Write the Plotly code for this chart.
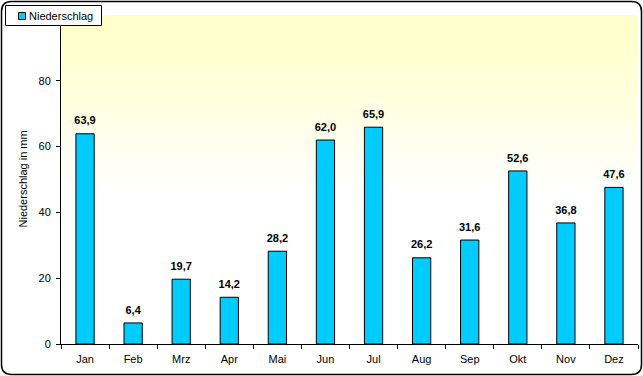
import plotly.graph_objects as go

months = ["Jan", "Feb", "Mrz", "Apr", "Mai", "Jun", "Jul", "Aug", "Sep", "Okt", "Nov", "Dez"]
niederschlag = [63.9, 6.4, 19.7, 14.2, 28.2, 62.0, 65.9, 26.2, 31.6, 52.6, 36.8, 47.6]
y_ticks = [0, 20, 40, 60, 80]
series_name = "Niederschlag"
y_title = "Niederschlag in mm"

W, H = 643, 376
L, R, T, B = 61, 5, 15, 32
pw, ph = W - L - R, H - T - B

def px(xp):
    return (xp - L) / pw
def py(yp):
    return (H - B - yp) / ph

fig = go.Figure()
fig.add_trace(go.Bar(
    x=months, y=niederschlag, name=series_name,
    marker=dict(color="#00CCFF", line=dict(color="black", width=1)),
    showlegend=False, hoverinfo="x+y",
))
# data labels above the bars
fig.add_trace(go.Scatter(
    x=months, y=niederschlag, mode="markers+text",
    marker=dict(size=9, color="rgba(0,0,0,0)"),
    texttemplate="%{y:.1f}", textposition="top center",
    textfont=dict(family="Liberation Sans, Arial", size=11, color="black", weight="bold"),
    cliponaxis=False, showlegend=False, hoverinfo="skip",
))

shapes = []
# background gradient (decoration)
n = 40
top_full, bottom_white = 0.93, 0.45
for i in range(n):
    y0 = bottom_white + (top_full - bottom_white) * i / n
    y1 = bottom_white + (top_full - bottom_white) * (i + 1) / n
    f = (i + 0.5) / n
    b = round(255 - (255 - 204) * f)
    shapes.append(dict(type="rect", xref="x domain", yref="y domain", x0=0, x1=1, y0=y0, y1=y1,
                       fillcolor=f"rgb(255,255,{b})", line=dict(width=0), layer="below"))
shapes.append(dict(type="rect", xref="x domain", yref="y domain", x0=0, x1=1, y0=top_full, y1=1,
                   fillcolor="rgb(255,255,204)", line=dict(width=0), layer="below"))

# rounded outer border
x0, x1, y0, y1, r = 1.5, 641.5, 1.5, 374.5, 10
path = (f"M {px(x0+r)},{py(y0)} L {px(x1-r)},{py(y0)} Q {px(x1)},{py(y0)} {px(x1)},{py(y0+r)} "
        f"L {px(x1)},{py(y1-r)} Q {px(x1)},{py(y1)} {px(x1-r)},{py(y1)} "
        f"L {px(x0+r)},{py(y1)} Q {px(x0)},{py(y1)} {px(x0)},{py(y1-r)} "
        f"L {px(x0)},{py(y0+r)} Q {px(x0)},{py(y0)} {px(x0+r)},{py(y0)} Z")
shapes.append(dict(type="path", xref="paper", yref="paper", path=path,
                   line=dict(color="black", width=1.5), fillcolor="rgba(0,0,0,0)", layer="above"))

# legend box
shapes.append(dict(type="rect", xref="paper", yref="paper", x0=px(5.5), x1=px(101.5), y0=py(5.5), y1=py(25.5),
                   fillcolor="white", line=dict(color="black", width=1), layer="above"))
shapes.append(dict(type="rect", xref="paper", yref="paper", x0=px(18.5), x1=px(25.5), y0=py(12.5), y1=py(19.5),
                   fillcolor="#00CCFF", line=dict(color="black", width=1), layer="above"))

annotations = [
    dict(text=series_name, xref="paper", yref="paper", x=px(27), y=py(15.5), xanchor="left", yanchor="middle",
         showarrow=False, font=dict(size=11)),
    dict(text=y_title, xref="paper", yref="paper", x=px(22), y=0.5, xanchor="center", yanchor="middle",
         textangle=-90, showarrow=False, font=dict(size=11)),
]

fig.update_layout(
    width=W, height=H,
    margin=dict(l=L, r=R, t=T, b=B, pad=0, autoexpand=False),
    paper_bgcolor="white", plot_bgcolor="white",
    separators=",.",
    font=dict(family="Liberation Sans, Arial", size=11, color="black"),
    bargap=0.62,
    shapes=shapes,
    annotations=annotations,
    showlegend=False,
    xaxis=dict(range=[-0.5, len(months) - 0.5], showline=True, linecolor="black", linewidth=1,
               tickson="boundaries",
               ticks="outside", ticklen=4, tickcolor="black", showgrid=False,
               tickfont=dict(size=11), ticklabelstandoff=5),
    yaxis=dict(range=[0, 100], tickvals=y_ticks, showline=True, linecolor="black", linewidth=1,
               ticks="outside", ticklen=4, tickcolor="black", showgrid=False, zeroline=False,
               ticklabelstandoff=3),
)

fig.write_html("out.html", post_script="document.body.style.margin='0';",
               config={"displayModeBar": False})
